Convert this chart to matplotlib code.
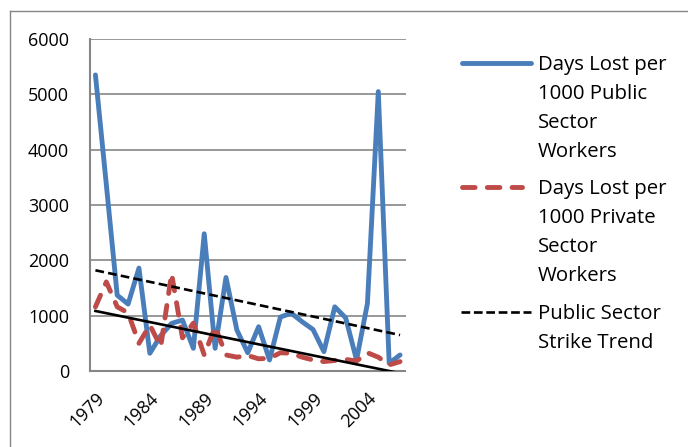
import matplotlib
matplotlib.use("Agg")
import matplotlib.pyplot as plt
from matplotlib.lines import Line2D
from matplotlib.transforms import ScaledTranslation
import numpy as np

# ---------------- data ----------------
years = list(range(1979, 2008))
public_days = [5350, 3370, 1370, 1210, 1860, 320, 640, 860, 920, 410,
               2480, 410, 1690, 740, 330, 800, 200, 975, 1045, 890,
               750, 350, 1160, 960, 200, 1220, 5050, 140, 290]
private_days = [1160, 1610, 1160, 1050, 500, 830, 440, 1760, 600, 865,
                290, 800, 290, 250, 280, 220, 230, 330, 320, 250,
                200, 170, 190, 210, 180, 330, 250, 110, 170]
public_trend_ends = [1820, 650]     # Excel linear trend, first / last year
private_trend_ends = [1085, -40]    # Excel linear trend (clipped at 0)
tick_years = [1979, 1984, 1989, 1994, 1999, 2004]
y_ticks = [0, 1000, 2000, 3000, 4000, 5000, 6000]
legend_entries = [
    ["Days Lost per", "1000 Public", "Sector", "Workers"],
    ["Days Lost per", "1000 Private", "Sector", "Workers"],
    ["Public Sector", "Strike Trend"],
]

# ---------------- style ----------------
plt.rcParams["font.family"] = ["Open Sans", "DejaVu Sans"]
BLUE = "#4A7EBB"
RED = "#BE4B48"
GREY = "#868686"
W, H = 688, 447

fig = plt.figure(figsize=(W / 100, H / 100), dpi=100)
fig.patch.set_facecolor("white")

def fx(px):
    return px / W

def fy(py):
    return 1 - py / H

ax = fig.add_axes([fx(90), fy(371), 315.5 / W, 332 / H])
ax.set_facecolor("none")
x = np.arange(len(years))

ax.plot(x, public_days, color=BLUE, lw=3.5, solid_joinstyle="round",
        solid_capstyle="round", zorder=3)
ax.plot(x, private_days, color=RED, lw=3.5, linestyle=(0, (2.6, 2.5)),
        dash_capstyle="round", dash_joinstyle="round", zorder=4)
ax.plot([x[0], x[-1]], public_trend_ends, color="black", lw=1.9,
        linestyle=(0, (3.3, 1.6)), zorder=5)
ax.plot([x[0], x[-1]], private_trend_ends, color="black", lw=1.9, zorder=5)

ax.set_xlim(-0.5, len(years) - 0.5)
ax.set_ylim(0, 6000)
ax.set_yticks(y_ticks)
ax.set_yticklabels([str(v) for v in y_ticks])
ax.yaxis.grid(True, color=GREY, lw=1.2)
ax.set_axisbelow(True)

ax.set_xticks([years.index(t) for t in tick_years])
ax.set_xticklabels([str(t) for t in tick_years], rotation=45, ha="right",
                   va="top", rotation_mode="anchor")
for lab in ax.get_xticklabels():
    lab.set_transform(lab.get_transform() +
                      ScaledTranslation(-5 / 100, 0, fig.dpi_scale_trans))

ax.tick_params(axis="both", length=0, labelsize=13, colors="black")
ax.tick_params(axis="y", pad=15)
ax.tick_params(axis="x", pad=13)
for s in ["top", "right"]:
    ax.spines[s].set_visible(False)
for s in ["left", "bottom"]:
    ax.spines[s].set_color(GREY)
    ax.spines[s].set_linewidth(1.5)

# ---------------- legend (manual, Excel style) ----------------
key_styles = [
    dict(color=BLUE, lw=3.5, solid_capstyle="round"),
    dict(color=RED, lw=3.5, linestyle=(0, (2.6, 2.5)), dash_capstyle="round"),
    dict(color="black", lw=1.9, linestyle=(0, (3.3, 1.4))),
]
key_x = [(462, 531), (462, 522), (461, 531)]
key_y = [62.7, 186.7, 311.7]
first_baselines = [70, 194, 319.3]
line_step = 29.0
text_x = 538

for i, lines in enumerate(legend_entries):
    x0, x1 = key_x[i]
    fig.add_artist(Line2D([fx(x0), fx(x1)], [fy(key_y[i]), fy(key_y[i])],
                          transform=fig.transFigure, **key_styles[i]))
    for j, t in enumerate(lines):
        fig.text(fx(text_x), fy(first_baselines[i] + j * line_step), t,
                 fontsize=14.7, ha="left", va="baseline", color="black")

# chart-area border (cropped at right and bottom)
fig.add_artist(Line2D([fx(9.5), fx(9.5)], [fy(10.5), 0], transform=fig.transFigure,
                      color=GREY, lw=1.0))
fig.add_artist(Line2D([fx(9.5), 1], [fy(10.5), fy(10.5)], transform=fig.transFigure,
                      color=GREY, lw=1.0))

fig.savefig("out.png", dpi=100, facecolor="white")
